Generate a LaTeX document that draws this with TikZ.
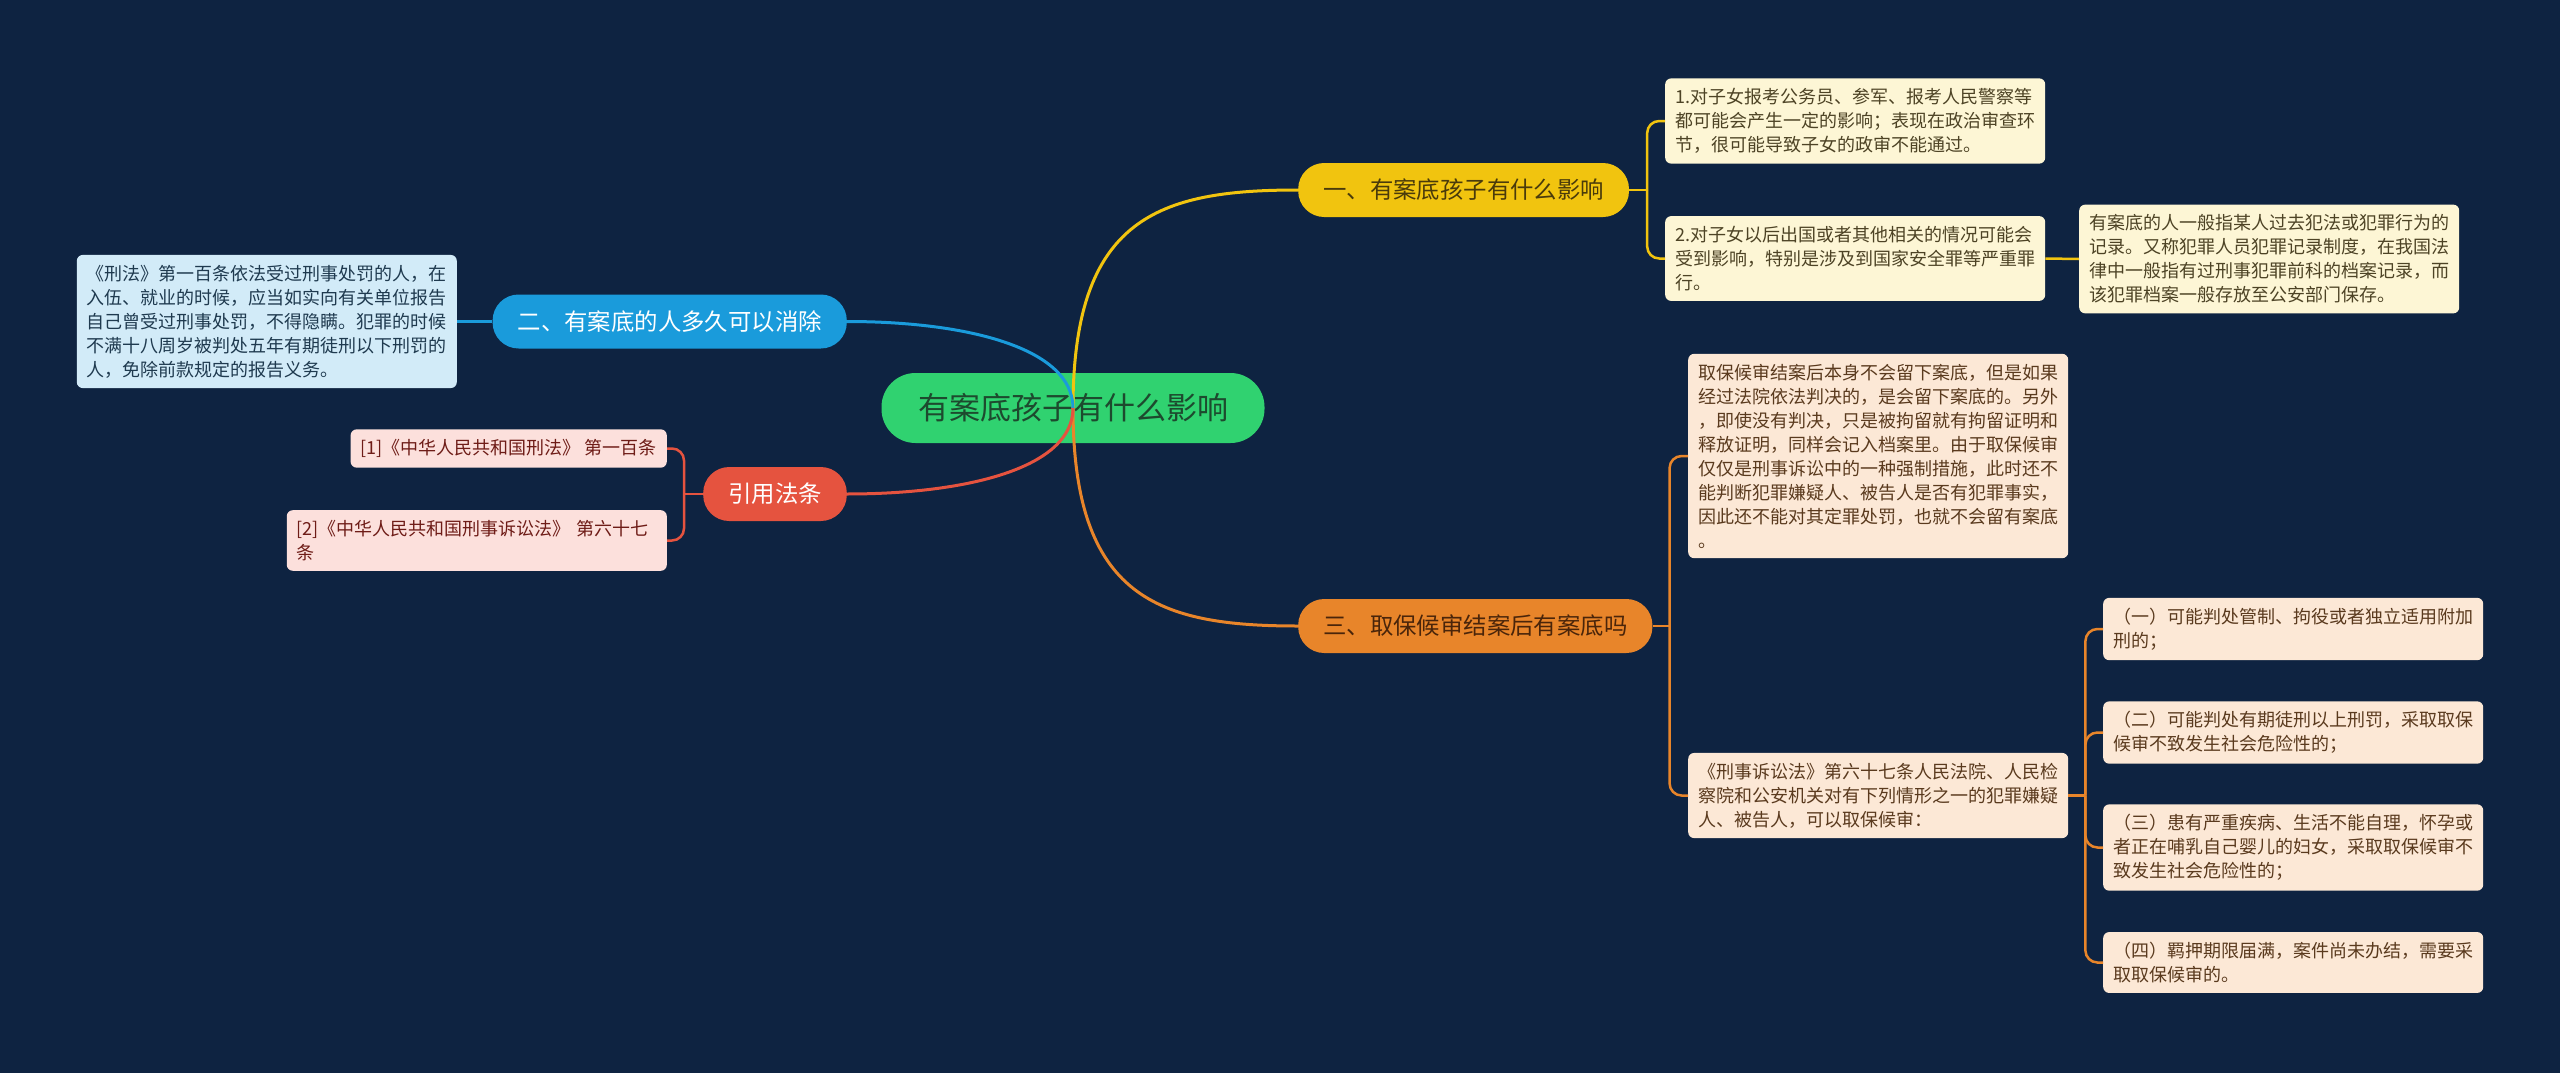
\documentclass[tikz,border=0pt]{standalone}
\usepackage{fontspec}
\setmainfont{Noto Sans CJK SC}
\usetikzlibrary{positioning,calc}
\definecolor{bgnavy}{HTML}{0E2341}
\definecolor{rootgreen}{HTML}{30D270}
\definecolor{roottext}{HTML}{1D4A2E}
\definecolor{ybranch}{HTML}{F1C40F}
\definecolor{ytext}{HTML}{4A3B0B}
\definecolor{yleaf}{HTML}{FDF6D5}
\definecolor{yleaftext}{HTML}{4D4325}
\definecolor{bbranch}{HTML}{1A9BDB}
\definecolor{bleaf}{HTML}{D2EBF8}
\definecolor{bleaftext}{HTML}{1F3A4F}
\definecolor{rbranch}{HTML}{E5533F}
\definecolor{rleaf}{HTML}{FCE0DC}
\definecolor{rleaftext}{HTML}{6E1C17}
\definecolor{obranch}{HTML}{E8852A}
\definecolor{otext}{HTML}{4A250A}
\definecolor{oleaf}{HTML}{FCE8D6}
\definecolor{oleaftext}{HTML}{5A3A1E}

\begin{document}
\begin{tikzpicture}[x=1pt,y=-1pt,
    pill/.style={rounded corners=26pt, minimum height=54pt, inner xsep=25pt,
      font=\fontsize{23.4pt}{28pt}\selectfont},
    leaf/.style={rounded corners=6pt, inner xsep=10pt, inner ysep=10pt,
      align=left, font=\fontsize{18pt}{24pt}\selectfont},
    wide/.style={leaf, text width=360pt},
    mainlink/.style={line width=3pt},
    sublink/.style={line width=2.5pt, rounded corners=12pt}]

  \useasboundingbox (0,0) rectangle (2560,1073);
  \fill[bgnavy] (0,0) rectangle (2560,1073);

  \node[fill=rootgreen, text=roottext, rounded corners=34pt, minimum height=70pt,
    inner xsep=36.5pt, font=\fontsize{31pt}{36pt}\selectfont]
    (root) at (1073,408) {有案底孩子有什么影响};

  \draw[mainlink, ybranch] (root.center)
    .. controls +(0,-190) and +(-140,0) .. (1298,190) coordinate (y1in);
  \draw[mainlink, obranch] (root.center)
    .. controls +(0,190) and +(-140,0) .. (1298,626) coordinate (o1in);
  \draw[mainlink, bbranch] (root.center)
    .. controls +(0,-60) and +(120,0) .. (847,321.5) coordinate (b1in);
  \draw[mainlink, rbranch] (root.center)
    .. controls +(0,60) and +(120,0) .. (847,494) coordinate (r1in);

  % branches
  \node[pill, fill=ybranch, text=ytext, anchor=west] (yellow) at (y1in) {一、有案底孩子有什么影响};
  \node[pill, fill=bbranch, text=white, anchor=east] (blue) at (b1in) {二、有案底的人多久可以消除};
  \node[pill, fill=rbranch, text=white, anchor=east] (red) at (r1in) {引用法条};
  \node[pill, fill=obranch, text=otext, anchor=west] (orange) at (o1in) {三、取保候审结案后有案底吗};

  % yellow leaves
  \node[wide, fill=yleaf, text=yleaftext, anchor=west] (yleafa) at (1665,121)
    {1.对子女报考公务员、参军、报考人民警察等\\都可能会产生一定的影响；表现在政治审查环\\节，很可能导致子女的政审不能通过。};
  \node[wide, fill=yleaf, text=yleaftext, anchor=west] (yleafb) at (1665,258.5)
    {2.对子女以后出国或者其他相关的情况可能会\\受到影响，特别是涉及到国家安全罪等严重罪\\行。};
  \node[wide, fill=yleaf, text=yleaftext, anchor=west] (yleafc) at (2079,259)
    {有案底的人一般指某人过去犯法或犯罪行为的\\记录。又称犯罪人员犯罪记录制度，在我国法\\律中一般指有过刑事犯罪前科的档案记录，而\\该犯罪档案一般存放至公安部门保存。};

  % blue leaf
  \node[wide, fill=bleaf, text=bleaftext, anchor=east] (bleafa) at (457,321.5)
    {《刑法》第一百条依法受过刑事处罚的人，在\\入伍、就业的时候，应当如实向有关单位报告\\自己曾受过刑事处罚，不得隐瞒。犯罪的时候\\不满十八周岁被判处五年有期徒刑以下刑罚的\\人，免除前款规定的报告义务。};

  % red leaves
  \node[leaf, fill=rleaf, text=rleaftext, anchor=east] (rleafa) at (667,448.5)
    {[1]《中华人民共和国刑法》 第一百条};
  \node[wide, fill=rleaf, text=rleaftext, anchor=east] (rleafb) at (667,540.5)
    {[2]《中华人民共和国刑事诉讼法》 第六十七\\条};

  % orange leaves
  \node[wide, fill=oleaf, text=oleaftext, anchor=west] (oleafa) at (1688,456)
    {取保候审结案后本身不会留下案底，但是如果\\经过法院依法判决的，是会留下案底的。另外\\，即使没有判决，只是被拘留就有拘留证明和\\释放证明，同样会记入档案里。由于取保候审\\仅仅是刑事诉讼中的一种强制措施，此时还不\\能判断犯罪嫌疑人、被告人是否有犯罪事实，\\因此还不能对其定罪处罚，也就不会留有案底\\。};
  \node[wide, fill=oleaf, text=oleaftext, anchor=west] (oleafb) at (1688,795.5)
    {《刑事诉讼法》第六十七条人民法院、人民检\\察院和公安机关对有下列情形之一的犯罪嫌疑\\人、被告人，可以取保候审：};
  \node[wide, fill=oleaf, text=oleaftext, anchor=west] (ocase1) at (2103,629)
    {（一）可能判处管制、拘役或者独立适用附加\\刑的；};
  \node[wide, fill=oleaf, text=oleaftext, anchor=west] (ocase2) at (2103,732.5)
    {（二）可能判处有期徒刑以上刑罚，采取取保\\候审不致发生社会危险性的；};
  \node[wide, fill=oleaf, text=oleaftext, anchor=west] (ocase3) at (2103,847.5)
    {（三）患有严重疾病、生活不能自理，怀孕或\\者正在哺乳自己婴儿的妇女，采取取保候审不\\致发生社会危险性的；};
  \node[wide, fill=oleaf, text=oleaftext, anchor=west] (ocase4) at (2103,962.5)
    {（四）羁押期限届满，案件尚未办结，需要采\\取取保候审的。};

  % sub connectors
  \coordinate (yj) at ([xshift=18]yellow.east);
  \coordinate (rj) at ([xshift=-19]red.west);
  \coordinate (oj) at ([xshift=17]orange.east);
  \coordinate (cj) at ([xshift=17]oleafb.east);

  \draw[sublink, ybranch] (yellow.east) -- (yj);
  \draw[sublink, ybranch] (yj) |- (yleafa.west);
  \draw[sublink, ybranch] (yj) |- (yleafb.west);
  \draw[sublink, ybranch] (yleafb.east) -- (yleafc.west);

  \draw[sublink, bbranch] (blue.west) -- (bleafa.east);

  \draw[sublink, rbranch] (red.west) -- (rj);
  \draw[sublink, rbranch] (rj) |- (rleafa.east);
  \draw[sublink, rbranch] (rj) |- (rleafb.east);

  \draw[sublink, obranch] (orange.east) -- (oj);
  \draw[sublink, obranch] (oj) |- (oleafa.west);
  \draw[sublink, obranch] (oj) |- (oleafb.west);
  \draw[sublink, obranch] (oleafb.east) -- (cj);
  \foreach \k in {1,...,4}
    \draw[sublink, obranch] (cj) |- (ocase\k.west);
\end{tikzpicture}
\end{document}
